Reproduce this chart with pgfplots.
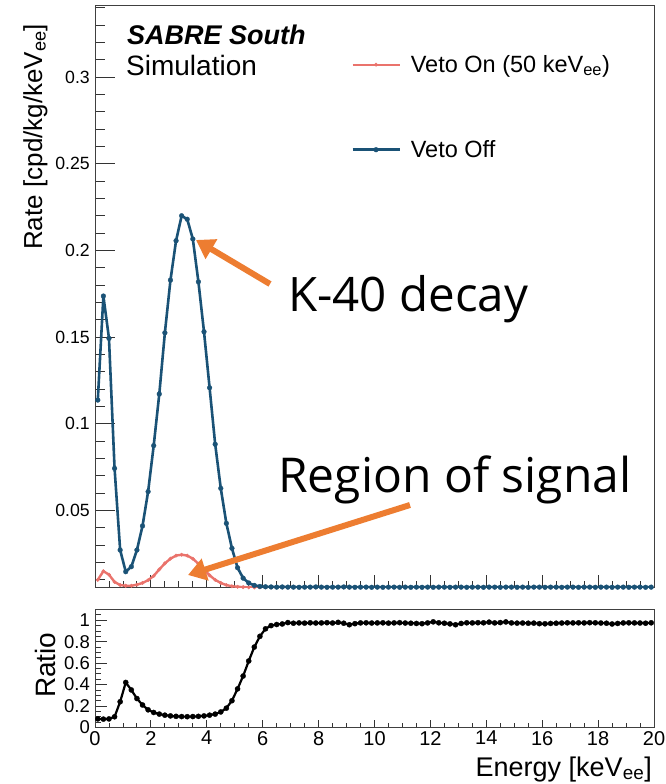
\documentclass[border=0pt]{standalone}
\usepackage{fontspec}
\setmainfont{Liberation Sans}
\newfontfamily\opensans{Open Sans}
\usepackage{pgfplots}
\usepackage{pgfplotstable}
\pgfplotsset{compat=1.18}
\usetikzlibrary{arrows.meta}
\definecolor{vetooff}{RGB}{26,82,118}
\definecolor{vetoon}{RGB}{234,115,108}
\definecolor{arrowor}{RGB}{237,125,49}

\pgfplotstableread{
x y
0.1 0.1137
0.3 0.1737
0.5 0.1493
0.7 0.0743
0.9 0.0272
1.1 0.0147
1.3 0.0176
1.5 0.0272
1.7 0.0411
1.9 0.0609
2.1 0.0874
2.3 0.1172
2.5 0.1525
2.7 0.1829
2.9 0.2056
3.1 0.2200
3.3 0.2180
3.5 0.2066
3.7 0.1819
3.9 0.1531
4.1 0.1208
4.3 0.0882
4.5 0.0628
4.7 0.0426
4.9 0.0282
5.1 0.0170
5.3 0.0110
5.5 0.0082
5.7 0.0068
5.9 0.0062
6.1 0.0060
6.3 0.0059
6.5 0.0058
6.7 0.0059
6.9 0.0058
7.1 0.0058
7.3 0.0057
7.5 0.0058
7.7 0.0058
7.9 0.0059
8.1 0.0058
8.3 0.0057
8.5 0.0058
8.7 0.0058
8.9 0.0059
9.1 0.0058
9.3 0.0057
9.5 0.0058
9.7 0.0058
9.9 0.0057
10.1 0.0058
10.3 0.0057
10.5 0.0058
10.7 0.0058
10.9 0.0057
11.1 0.0058
11.3 0.0057
11.5 0.0058
11.7 0.0057
11.9 0.0058
12.1 0.0057
12.3 0.0058
12.5 0.0058
12.7 0.0057
12.9 0.0058
13.1 0.0058
13.3 0.0057
13.5 0.0058
13.7 0.0058
13.9 0.0057
14.1 0.0058
14.3 0.0058
14.5 0.0057
14.7 0.0058
14.9 0.0058
15.1 0.0057
15.3 0.0058
15.5 0.0057
15.7 0.0058
15.9 0.0058
16.1 0.0057
16.3 0.0058
16.5 0.0058
16.7 0.0057
16.9 0.0058
17.1 0.0058
17.3 0.0057
17.5 0.0058
17.7 0.0058
17.9 0.0057
18.1 0.0058
18.3 0.0058
18.5 0.0057
18.7 0.0058
18.9 0.0058
19.1 0.0057
19.3 0.0058
19.5 0.0058
19.7 0.0057
19.9 0.0058
}\vetooff

\pgfplotstableread{
x y
0.1 0.0100
0.3 0.0150
0.5 0.0130
0.7 0.0088
0.9 0.0070
1.1 0.0066
1.3 0.0066
1.5 0.0072
1.7 0.0082
1.9 0.0098
2.1 0.0123
2.3 0.0160
2.5 0.0195
2.7 0.0222
2.9 0.0240
3.1 0.0245
3.3 0.0240
3.5 0.0222
3.7 0.0193
3.9 0.0160
4.1 0.0126
4.3 0.0100
4.5 0.0082
4.7 0.0070
4.9 0.0063
5.1 0.0060
5.3 0.0058
5.5 0.0057
5.7 0.0056
5.9 0.0056
6.1 0.0057
6.3 0.0056
6.5 0.0056
6.7 0.0057
6.9 0.0056
7.1 0.0056
7.3 0.0056
7.5 0.0057
7.7 0.0056
7.9 0.0056
8.1 0.0056
8.3 0.0056
8.5 0.0057
8.7 0.0056
8.9 0.0056
9.1 0.0055
9.3 0.0056
9.5 0.0056
9.7 0.0057
9.9 0.0056
10.1 0.0056
10.3 0.0056
10.5 0.0057
10.7 0.0056
10.9 0.0056
11.1 0.0056
11.3 0.0056
11.5 0.0056
11.7 0.0055
11.9 0.0056
12.1 0.0057
12.3 0.0056
12.5 0.0056
12.7 0.0055
12.9 0.0055
13.1 0.0056
13.3 0.0056
13.5 0.0056
13.7 0.0057
13.9 0.0056
14.1 0.0057
14.3 0.0056
14.5 0.0056
14.7 0.0057
14.9 0.0056
15.1 0.0056
15.3 0.0056
15.5 0.0056
15.7 0.0056
15.9 0.0056
16.1 0.0055
16.3 0.0056
16.5 0.0056
16.7 0.0056
16.9 0.0057
17.1 0.0056
17.3 0.0056
17.5 0.0056
17.7 0.0057
17.9 0.0056
18.1 0.0056
18.3 0.0056
18.5 0.0055
18.7 0.0056
18.9 0.0056
19.1 0.0056
19.3 0.0056
19.5 0.0056
19.7 0.0056
19.9 0.0056
}\vetoon

\pgfplotstableread{
x y
0.1 0.080
0.3 0.078
0.5 0.080
0.7 0.100
0.9 0.240
1.1 0.420
1.3 0.350
1.5 0.270
1.7 0.210
1.9 0.165
2.1 0.140
2.3 0.125
2.5 0.115
2.7 0.108
2.9 0.104
3.1 0.102
3.3 0.101
3.5 0.102
3.7 0.104
3.9 0.108
4.1 0.115
4.3 0.125
4.5 0.145
4.7 0.180
4.9 0.250
5.1 0.360
5.3 0.480
5.5 0.620
5.7 0.750
5.9 0.850
6.1 0.920
6.3 0.950
6.5 0.960
6.7 0.965
6.9 0.978
7.1 0.972
7.3 0.975
7.5 0.973
7.7 0.976
7.9 0.974
8.1 0.975
8.3 0.977
8.5 0.974
8.7 0.980
8.9 0.972
9.1 0.958
9.3 0.968
9.5 0.975
9.7 0.976
9.9 0.974
10.1 0.975
10.3 0.976
10.5 0.973
10.7 0.975
10.9 0.977
11.1 0.974
11.3 0.972
11.5 0.970
11.7 0.968
11.9 0.975
12.1 0.985
12.3 0.976
12.5 0.972
12.7 0.966
12.9 0.958
13.1 0.970
13.3 0.976
13.5 0.975
13.7 0.977
13.9 0.976
14.1 0.982
14.3 0.975
14.5 0.978
14.7 0.984
14.9 0.975
15.1 0.973
15.3 0.974
15.5 0.972
15.7 0.973
15.9 0.968
16.1 0.967
16.3 0.970
16.5 0.972
16.7 0.974
16.9 0.976
17.1 0.975
17.3 0.976
17.5 0.975
17.7 0.977
17.9 0.976
18.1 0.974
18.3 0.972
18.5 0.965
18.7 0.970
18.9 0.975
19.1 0.976
19.3 0.975
19.5 0.974
19.7 0.972
19.9 0.976
}\ratio

\begin{document}
\begin{tikzpicture}
% ---------------- top panel ----------------
\begin{axis}[
  at={(95pt,196pt)}, anchor=south west,
  scale only axis, width=559pt, height=582pt,
  xmin=0, xmax=20, ymin=0.0053, ymax=0.341,
  xtick={0,2,...,20}, xticklabels={}, minor x tick num=3,
  ytick={0.05,0.1,0.15,0.2,0.25,0.3},
  yticklabels={0.05,0.1,0.15,0.2,0.25,0.3},
  minor ytick={0.01,0.02,0.03,0.04,0.06,0.07,0.08,0.09,0.11,0.12,0.13,0.14,0.16,0.17,0.18,0.19,0.21,0.22,0.23,0.24,0.26,0.27,0.28,0.29,0.31,0.32,0.33,0.34},
  tick align=inside, xtick pos=bottom, ytick pos=left,
  xtick style={/pgfplots/major tick length=13pt,/pgfplots/minor tick length=7pt, line width=0.9pt, black!80},
  ytick style={/pgfplots/major tick length=20pt,/pgfplots/minor tick length=10pt, line width=0.9pt, black!80},
  axis line style={black!75, line width=1pt},
  yticklabel style={font=\fontsize{17.7}{20}\selectfont, inner sep=0pt, xshift=-5pt},
  legend cell align=left,
  legend style={at={(0.458,0.9175)}, anchor=north west, draw=none, fill=none,
    inner sep=0pt, column sep=10pt, row sep=64pt,
    font=\fontsize{23.5}{27}\selectfont,
    nodes={inner sep=0pt, text height=18pt, text depth=3pt}},
  legend image code/.code={\draw[mark repeat=2,mark phase=2,#1] plot coordinates {(0pt,0pt)(23.5pt,0pt)(47pt,0pt)};},
]
\addplot[color=vetoon, line width=2.4pt, mark=*, mark size=1.8pt, mark options={line width=0.3pt}] table[x=x,y=y] {\vetoon};
\addlegendentry{Veto On (50 keV\textsubscript{ee})}
\addplot[color=vetooff, line width=2.6pt, mark=*, mark size=2.4pt, mark options={line width=0.3pt}] table[x=x,y=y] {\vetooff};
\addlegendentry{Veto Off}
\end{axis}

% ---------------- ratio panel ----------------
\begin{axis}[
  at={(95pt,56.5pt)}, anchor=south west,
  scale only axis, width=559pt, height=118pt,
  xmin=0, xmax=20, ymin=0, ymax=1.1,
  xtick={0,2,...,20}, xticklabels={0,2,4,6,8,10,12,14,16,18,20}, minor x tick num=3,
  ytick={0,0.2,0.4,0.6,0.8,1}, yticklabels={0,0.2,0.4,0.6,0.8,1},
  minor ytick={0.05,0.1,0.15,0.25,0.3,0.35,0.45,0.5,0.55,0.65,0.7,0.75,0.85,0.9,0.95,1.05},
  tick align=inside, xtick pos=bottom, ytick pos=left,
  xtick style={/pgfplots/major tick length=7pt,/pgfplots/minor tick length=4pt, line width=0.9pt, black!80},
  ytick style={/pgfplots/major tick length=12pt,/pgfplots/minor tick length=6pt, line width=0.9pt, black!80},
  axis line style={black!75, line width=1pt},
  yticklabel style={font=\fontsize{18.5}{20}\selectfont, inner sep=0pt, xshift=-5pt},
  xticklabel style={font=\fontsize{20}{22}\selectfont, inner sep=0pt, yshift=-3.5pt},
]
\addplot[color=black, line width=2.2pt, mark=*, mark size=2.6pt, mark options={line width=0.3pt}] table[x=x,y=y] {\ratio};
\end{axis}

% ---------------- texts ----------------
\node[anchor=base west, inner sep=0pt, font=\fontsize{27}{30}\selectfont\bfseries\itshape] at (127pt,739pt) {SABRE South};
\node[anchor=base west, inner sep=0pt, font=\fontsize{28}{30}\selectfont] at (126pt,708pt) {Simulation};
\node[rotate=90, anchor=base west, inner sep=0pt, font=\fontsize{26}{30}\selectfont] at (42pt,534pt) {Rate [cpd/kg/keV\textsubscript{ee}]};
\node[rotate=90, anchor=base west, inner sep=0pt, font=\fontsize{28}{30}\selectfont] at (55pt,86pt) {Ratio};
\node[anchor=base east, inner sep=0pt, font=\fontsize{27}{30}\selectfont] at (652pt,8pt) {Energy [keV\textsubscript{ee}]};

\node[anchor=base west, inner sep=0pt, font=\opensans\fontsize{47.5}{55}\selectfont] at (288pt,472pt) {K-40 decay};
\node[anchor=base west, inner sep=0pt, font=\opensans\fontsize{48}{55}\selectfont] at (278pt,291pt) {Region of signal};

\draw[arrowor, line width=6pt, -{Triangle[length=18pt,width=22pt]}] (270pt,500pt) -- (196pt,544pt);
\draw[arrowor, line width=6pt, -{Triangle[length=18pt,width=22pt]}] (410pt,279pt) -- (188pt,209pt);

\pgfresetboundingbox
\useasboundingbox (0pt,0pt) rectangle (666pt,784pt);
\end{tikzpicture}
\end{document}
